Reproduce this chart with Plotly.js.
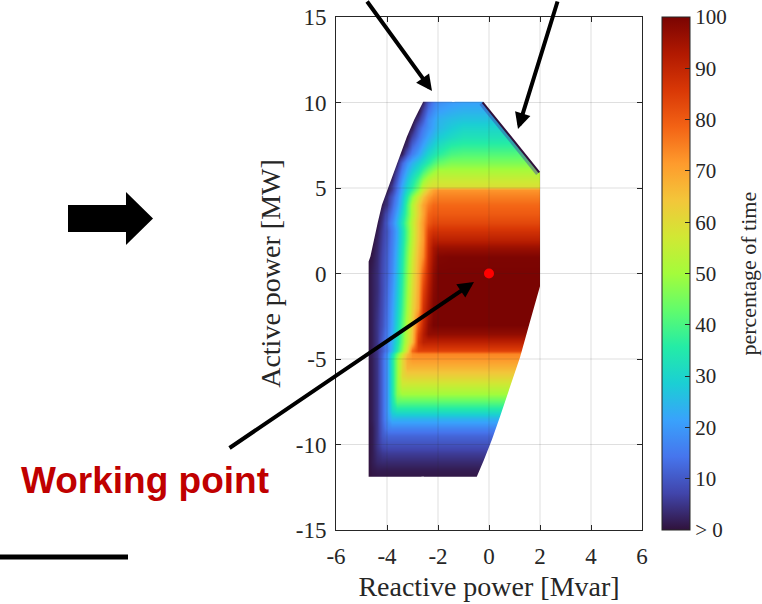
<!DOCTYPE html>
<html>
<head>
<meta charset="utf-8">
<script src="https://cdn.plot.ly/plotly-3.0.1.min.js"></script>
<style>html,body{margin:0;padding:0;background:#fff;}#chart{width:762px;height:604px;}</style>
</head>
<body>
<div id="chart"></div>
<script>
// ---------- data ----------
const reactivePower = [-4.8,-4.6,-4.4,-4.2,-4.0,-3.8,-3.6,-3.4,-3.2,-3.0,-2.8,-2.6,-2.4,-2.2,-2.0,-1.5,-1.0,0.0,1.0,2.1];
const activePower = [-12.0,-11.5,-11.0,-10.5,-10.0,-9.5,-9.0,-8.5,-8.0,-7.5,-7.0,-6.5,-6.0,-5.5,-5.0,-4.7,-4.5,-4.0,-3.5,-3.0,-2.0,-1.0,0.0,1.0,1.5,2.0,2.5,3.0,3.5,4.0,4.5,4.9,5.1,5.5,6.0,6.5,7.0,7.5,8.0,8.5,9.0,9.5,10.1];
const percentTime = [
[0,0.5,0.5,0.5,0.5,0.5,0.5,0.5,0.5,0.5,0.5,0.5,0.5,0.5,0.5,0.5,0.5,0.5,0.5,0.5],
[0,1,1.5,1.5,1.5,1.5,1.5,1.5,1.5,1.5,1.5,1.5,1.5,1.5,1.5,1.5,1.5,1.5,1.5,1.5],
[0,1.5,3,3.5,3.5,3.5,3.5,3.5,3.5,3.5,3.5,3.5,3.5,3.5,3.5,3.5,3.5,3.5,3.5,3.5],
[0,1.5,4,5.5,6,6,6,6,6,6,6,6,6,6,6,6,6,6,6,6],
[0,1.5,5,8,9,9,9,9,9,9,9,9,9,9,9,9,9,9,9,9],
[0,1.5,5,10,12,12,12,12,12,12,12,12,12,12,12,12,12,12,12,12],
[0,1.5,5,11,16,17,17,17,17,17,17,17,17,17,17,17,17,17,17,17],
[0,2,5,12,19,24,24,24,24,24,24,24,24,24,24,24,24,24,24,24],
[0,2,5,12,20,30,33,33,33,33,33,33,33,33,33,33,33,33,33,33],
[0,2,5,12,20,33,42,42,42,42,42,42,42,42,42,42,42,42,42,42],
[0,2,5,12,20,34,47,50,50,50,50,50,50,50,50,50,50,50,50,50],
[0,2,5,12,20,34,48,56,56,56,56,56,56,56,56,56,56,56,56,56],
[0,2,5,12,20,34,48,60,62,62,62,62,62,62,62,62,62,62,62,62],
[0,2,5,12,20,34,48,60,67,67,67,67,67,67,67,67,67,67,67,67],
[0,2,5,12,20,34,48,60,69,72,72,72,72,72,72,72,72,72,72,72],
[0,2,5,11,19,31,44,56,66,73,74,74,74,74,74,74,74,74,74,74],
[0,2,5,10,16,25,36,47,60,78,84,84,84,84,84,84,84,84,84,84],
[0,2,5,11,16.5,24,33,44,55,65.5,86,91,91,91,91,91,91,91,91,91],
[0,2,5,10,16,23,32.5,43,54,64.5,84,92,97,97,97,97,97,97,97,97],
[0,2,5,9,15,22,31,41.5,52.5,63,80,90,97,100,100,100,100,100,100,100],
[0,2,4.5,8.5,14,21,29,39,50,61,70,87,94,99,100,100,100,100,100,100],
[0,2,4,8,13,19.5,27.5,37.5,48.5,59.5,69,84,92,98,100,100,100,100,100,100],
[0,2,4,8,12,18,26,36,47,58,68,80,90,97,100,100,100,100,100,100],
[0,1,3.5,7.5,11.5,17,25,34.5,45.5,56.5,66.5,74,88,95,99,99.5,99.5,99.5,99.5,99.5],
[0,0.5,3,7,11,16.5,24,33.5,44.5,55,65.5,73,87,94,96,96,96,96,96,96],
[0,0,2.5,6.5,10.5,16,23,32.5,43,54,64.5,72,86,91,91,91,91,91,91,91],
[0,0,1.5,6,10,15.5,22.5,32,42.5,53.5,64,72,84,87,87,87,87,87,87,87],
[0,0,0.5,5,11,17,25,34,44,54,64,72,80,83,83,83,83,83,83,83],
[0,0,0,3.5,9,14.5,22,31,41,52,62,70,78,80,80,80,80,80,80,80],
[0,0,0,1.5,5,12,19,28,40,52,62,70,75,78,78,78,78,78,78,78],
[0,0,0,0.5,4,10,17,26,36,47,57,65,71,74,75,75,75,75,75,75],
[0,0,0,0,1,6,14,23,31,38,47,57,64,70,72,72,72,72,72,72],
[0,0,0,0,1,6,14,23,30,36,44,54,58,59,59,59,59,59,59,59],
[0,0,0,0,0,3,11,20,27,33,40,48,53,56,56,56,56,56,56,56],
[0,0,0,0,0,0.5,7,16,23,28,33,39,44,48,51,51,51,51,51,51],
[0,0,0,0,0,0,3,12,19,24,28,32,36,40,43,46,46,46,46,46],
[0,0,0,0,0,0,0,2,10,16,21,26,30,33,36,40,41,41,41,41],
[0,0,0,0,0,0,0,0,4,12,17,22,26,29,32,36,37,37,37,37],
[0,0,0,0,0,0,0,0,0.5,7,13,18,22,25,28,31,33,33,33,33],
[0,0,0,0,0,0,0,0,0,2,10,15,19,22,25,28,30,30,30,30],
[0,0,0,0,0,0,0,0,0,0,5,11,18,21,24,26,27,27,27,27],
[0,0,0,0,0,0,0,0,0,0,0,7,14,18,21,23,24,24,24,24],
[0,0,0,0,0,0,0,0,0,0,0,2,10,15,18,20,21,21,21,21]
];
// capability-region boundary (left chain: idx 0..13, right chain: idx 14..23)
const boundaryQ = [-4.72,-4.72,-4.65,-4.58,-4.50,-4.36,-4.20,-3.98,-3.72,-3.47,-3.22,-2.93,-2.78,-2.58,-0.22,2.00,2.00,1.60,1.22,0.83,0.43,0.12,-0.20,-0.48];
const boundaryP = [-11.88,0.70,1.00,1.50,2.00,3.00,4.00,5.00,6.00,7.00,8.00,9.00,9.50,10.05,10.05,5.95,-0.75,-2.85,-4.88,-6.65,-8.37,-9.70,-10.90,-11.88];
const workingPointQ = [0];
const workingPointP = [0];
const xTickVals = [-6,-4,-2,0,2,4,6];
const xTickText = ['-6','-4','-2','0','2','4','6'];
const yTickVals = [-15,-10,-5,0,5,10,15];
const yTickText = ['-15','-10','-5','0','5','10','15'];
const cbTickVals = [0,10,20,30,40,50,60,70,80,90,100];
const cbTickText = ['> 0','10','20','30','40','50','60','70','80','90','100'];
const gridQ = [-4,-2,0,2,4];
const gridP = [-10,-5,0,5,10];

// ---------- styling ----------
const turbo = ['#30123b','#4145ab','#4675ed','#39a2fc','#1bcfd4','#24eca6','#61fc6c','#a4fc3b','#d1e834','#f3c63a','#fe9b2d','#f36315','#d93806','#b11901','#7a0402'];
const colorscale = turbo.map((c,i)=>[i/(turbo.length-1), c]);
const serif = '"Liberation Serif", "Times New Roman", Times, serif';
const ink = '#262626';
const XR = [-6,6], YR = [-15,15];

// boundary chains
const leftIdx = [...Array(14).keys()];
const rightIdx = [...Array(10).keys()].map(i=>i+14);
const topY = boundaryP[13], botY = boundaryP[0];
const topMid = (boundaryQ[13]+boundaryQ[14])/2;
const botMid = (boundaryQ[0]+boundaryQ[23])/2;
const far = 1;

const mLx = [XR[0]-far, XR[0]-far, topMid+0.05, topMid+0.05];
const mLy = [YR[0]-far, YR[1]+far, YR[1]+far, topY];
leftIdx.slice().reverse().forEach(i=>{mLx.push(boundaryQ[i]); mLy.push(boundaryP[i]);});
mLx.push(botMid+0.05, botMid+0.05); mLy.push(botY, YR[0]-far);
const mRx = [topMid-0.05, XR[1]+far, XR[1]+far, botMid-0.05, botMid-0.05];
const mRy = [YR[1]+far, YR[1]+far, YR[0]-far, YR[0]-far, botY];
rightIdx.slice().reverse().forEach(i=>{mRx.push(boundaryQ[i]); mRy.push(boundaryP[i]);});
mRx.push(topMid-0.05); mRy.push(topY);

const gX = [], gY = [];
gridQ.forEach(q=>{gX.push(q,q,null); gY.push(YR[0],YR[1],null);});
gridP.forEach(p=>{gX.push(XR[0],XR[1],null); gY.push(p,p,null);});

const fringeQ = [boundaryQ[14], boundaryQ[15]];
const fringeP = [boundaryP[14], boundaryP[15]];

const traces = [
  {type:'heatmap', x:reactivePower, y:activePower, z:percentTime, zmin:0, zmax:100,
   zsmooth:'best', colorscale:colorscale, hoverinfo:'skip',
   colorbar:{x:1.0654, xanchor:'left', xpad:0, y:0.5, yanchor:'middle', ypad:0,
     len:1, lenmode:'fraction', thickness:28, thicknessmode:'pixels',
     outlinewidth:1, outlinecolor:ink, ticks:'inside', ticklen:5, tickwidth:1, tickcolor:ink,
     tickmode:'array', tickvals:cbTickVals, ticktext:cbTickText,
     tickfont:{family:serif, size:21, color:ink}}},
  {type:'scatter', mode:'lines', x:fringeQ, y:fringeP, line:{color:'rgba(65,69,171,0.45)', width:10}, hoverinfo:'skip', showlegend:false},
  {type:'scatter', mode:'lines', x:fringeQ, y:fringeP, line:{color:'#30123b', width:4}, hoverinfo:'skip', showlegend:false},
  {type:'scatter', mode:'lines', x:mLx, y:mLy, fill:'toself', fillcolor:'#ffffff', line:{width:0, color:'rgba(0,0,0,0)'}, hoverinfo:'skip', showlegend:false},
  {type:'scatter', mode:'lines', x:mRx, y:mRy, fill:'toself', fillcolor:'#ffffff', line:{width:0, color:'rgba(0,0,0,0)'}, hoverinfo:'skip', showlegend:false},
  {type:'scatter', mode:'lines', x:gX, y:gY, line:{color:'rgba(38,38,38,0.15)', width:1}, hoverinfo:'skip', showlegend:false},
  {type:'scatter', mode:'markers', x:workingPointQ, y:workingPointP, marker:{color:'#ff0000', size:10}, hoverinfo:'skip', showlegend:false}
];

const L=336, R=642, T=17, B=530;
const px = v => (v-L)/(R-L);
const py = v => (B-v)/(B-T);
const bigArrow = [[68,205],[126,205],[126,192],[153,218.5],[126,245],[126,232],[68,232]];
const bigArrowPath = 'M' + bigArrow.map(p=>px(p[0]).toFixed(4)+','+py(p[1]).toFixed(4)).join(' L') + ' Z';

const arrowCommon = {showarrow:true, arrowhead:2, arrowsize:0.8, arrowwidth:4, arrowcolor:'#000000', text:'', standoff:0, xref:'x', yref:'y', axref:'pixel', ayref:'pixel'};

const layout = {
  width:762, height:604,
  margin:{l:L, r:762-R, t:T, b:604-B, pad:0},
  paper_bgcolor:'#ffffff', plot_bgcolor:'#ffffff',
  font:{family:serif, color:ink},
  showlegend:false,
  xaxis:{range:XR, autorange:false, tickmode:'array', tickvals:xTickVals, ticktext:xTickText,
    ticks:'inside', ticklen:5, tickwidth:1, tickcolor:ink, showline:true, linecolor:ink, linewidth:1,
    mirror:'ticks', showgrid:false, zeroline:false, layer:'above traces', fixedrange:true,
    tickfont:{family:serif, size:23, color:ink}, ticklabelstandoff:5,
    title:{text:'Reactive power [Mvar]', font:{family:serif, size:28, color:ink}, standoff:8}},
  yaxis:{range:YR, autorange:false, tickmode:'array', tickvals:yTickVals, ticktext:yTickText,
    ticks:'inside', ticklen:5, tickwidth:1, tickcolor:ink, showline:true, linecolor:ink, linewidth:1,
    mirror:'ticks', showgrid:false, zeroline:false, layer:'above traces', fixedrange:true,
    tickfont:{family:serif, size:23, color:ink}, ticklabelstandoff:4,
    title:{text:'Active power [MW]', font:{family:serif, size:28, color:ink}, standoff:6}},
  shapes:[
    {type:'path', xref:'paper', yref:'paper', path:bigArrowPath, fillcolor:'#000000', line:{width:0}},
    {type:'line', xref:'paper', yref:'paper', x0:px(-5), y0:py(557), x1:px(128), y1:py(557), line:{color:'#000000', width:5}}
  ],
  annotations:[
    Object.assign({}, arrowCommon, {x:-2.235, y:10.67, ax:-66, ay:-102}),
    Object.assign({}, arrowCommon, {x:1.137, y:8.45, ax:40, ay:-140}),
    Object.assign({}, arrowCommon, {x:-0.588, y:-0.497, ax:-246, ay:167}),
    {xref:'paper', yref:'paper', x:px(144.5), y:py(480.5), xanchor:'center', yanchor:'middle', showarrow:false,
     text:'<b>Working point</b>', font:{family:'"Liberation Sans", Arial, Helvetica, sans-serif', size:37, color:'#c00000'}},
    {xref:'paper', yref:'paper', x:px(748), y:py(273.5), xanchor:'center', yanchor:'middle', showarrow:false, textangle:-90,
     text:'percentage of time', font:{family:serif, size:22, color:ink}}
  ]
};

Plotly.newPlot('chart', traces, layout, {displayModeBar:false, staticPlot:true});
</script>
</body>
</html>
